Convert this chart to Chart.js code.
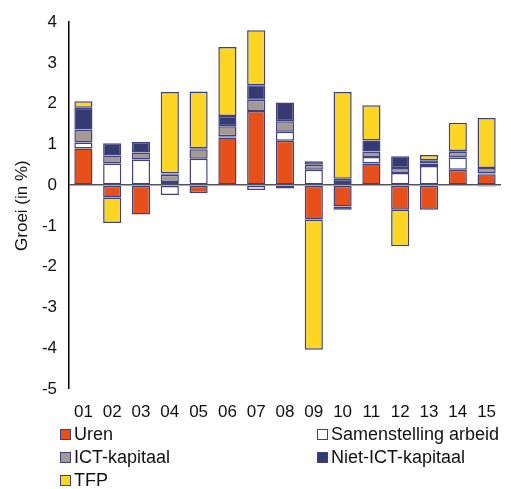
<!DOCTYPE html>
<html lang="nl">
<head>
  <meta charset="UTF-8">
  <title>Groei bijdragen</title>
  <script src="https://cdn.jsdelivr.net/npm/chart.js"></script>
  <style>
    body { margin: 0; background: #fff; font-family: "Liberation Sans", Arial, sans-serif; }
    .wrap { position: relative; width: 511px; height: 489px; }
    .legend { position: absolute; left: 60px; top: 424px; width: 451px; color: #111; font-size: 18px; }
    .item { position: absolute; display: flex; align-items: center; height: 20px; }
    .box { width: 9px; height: 9px; border: 1.5px solid #3d4180; margin-right: 3px; }
  </style>
</head>
<body>
  <div class="wrap">
    <div style="width:511px;height:430px"><canvas id="chart"></canvas></div>
    <div class="legend" id="legend"></div>
  </div>

  <script>
    const labels = ['01','02','03','04','05','06','07','08','09','10','11','12','13','14','15'];
    const uren          = [0.90,-0.30,-0.72,0.08,-0.20,1.17,1.82,1.09,-0.84,-0.52,0.53,-0.60,-0.60,0.38,0.27];
    const samenstelling = [0.15,0.53,0.63,-0.24,0.65,0.03,-0.12,0.22,0.38,0.08,0.16,0.30,0.47,0.30,0.02];
    const ictKapitaal   = [0.32,0.20,0.17,0.18,0.23,0.25,0.28,0.26,0.12,0.08,0.14,0.12,0.06,0.14,0.13];
    const nietIct       = [0.53,0.30,0.26,0.03,0.03,0.25,0.35,0.46,0.09,-0.08,0.27,0.29,0.08,0.02,-0.03];
    const tfp           = [0.16,-0.63,0,2.00,1.39,1.69,1.35,-0.08,-3.20,2.13,0.86,-0.90,0.13,0.69,1.23];

    const series = [
      { label: 'Uren', data: uren, color: '#e8501a' },
      { label: 'Samenstelling arbeid', data: samenstelling, color: '#ffffff' },
      { label: 'ICT-kapitaal', data: ictKapitaal, color: '#a59a93' },
      { label: 'Niet-ICT-kapitaal', data: nietIct, color: '#363a73' },
      { label: 'TFP', data: tfp, color: '#fdd622' }
    ];

    // legenda in twee kolommen, zoals het origineel
    const legendPos = [[0, 0], [257, 0], [0, 23], [257, 23], [0, 46]];
    const legend = document.getElementById('legend');
    series.forEach((s, i) => {
      const el = document.createElement('div');
      el.className = 'item';
      el.style.left = legendPos[i][0] + 'px';
      el.style.top = legendPos[i][1] + 'px';
      el.innerHTML = `<span class="box" style="background:${s.color}"></span>${s.label}`;
      legend.appendChild(el);
    });

    new Chart(document.getElementById('chart'), {
      type: 'bar',
      data: {
        labels,
        datasets: series.map(s => ({
          label: s.label,
          data: s.data,
          backgroundColor: s.color,
          borderColor: '#3d4180',
          borderWidth: 1.5,
          borderSkipped: false,
          barPercentage: 0.63,
          categoryPercentage: 1
        }))
      },
      options: {
        responsive: true,
        maintainAspectRatio: false,
        animation: false,
        layout: { padding: { top: 22, right: 10, bottom: 0, left: 0 } },
        scales: {
          x: {
            stacked: true,
            grid: { display: false, drawTicks: false },
            border: { display: false },
            ticks: { color: '#111', font: { family: 'Liberation Sans', size: 17 }, padding: 13, maxRotation: 0 },
            afterFit: s => { s.height = 41; }
          },
          y: {
            stacked: true,
            min: -5,
            max: 4,
            ticks: { stepSize: 1, color: '#111', font: { family: 'Liberation Sans', size: 17 }, padding: 12 },
            grid: {
              drawTicks: false,
              color: c => c.tick && c.tick.value === 0 ? '#555' : 'rgba(0,0,0,0)',
              lineWidth: c => c.tick && c.tick.value === 0 ? 1.5 : 0
            },
            border: { color: '#000', width: 1.5 },
            title: { display: true, text: 'Groei (in %)', color: '#111', font: { family: 'Liberation Sans', size: 17 }, padding: { top: 12, bottom: 0 } },
            afterFit: s => { s.width = 69; }
          }
        },
        plugins: { legend: { display: false }, tooltip: { enabled: false } }
      }
    });
  </script>
</body>
</html>
